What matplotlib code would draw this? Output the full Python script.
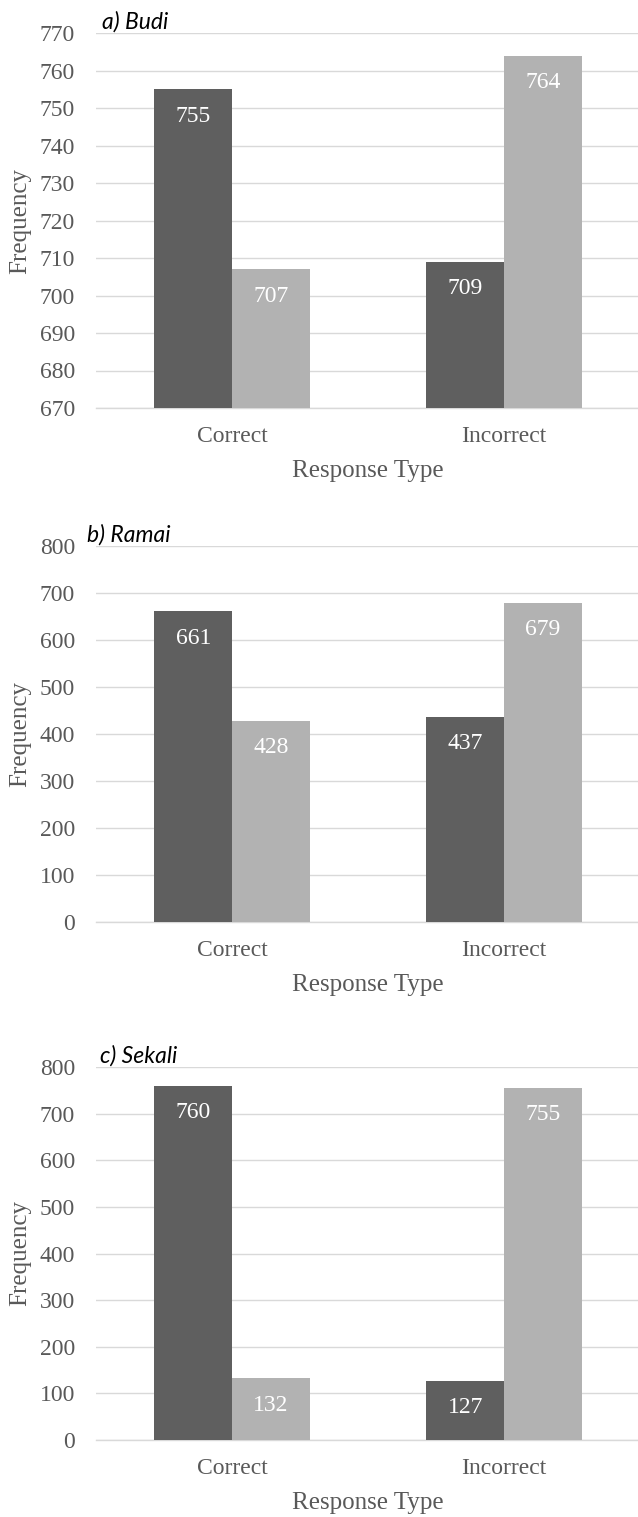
import matplotlib
matplotlib.use('Agg')
import matplotlib.pyplot as plt
import numpy as np

plt.rcParams.update({
    'font.family': ['Liberation Serif', 'DejaVu Serif'],
    'font.size': 17,
    'axes.edgecolor': '#d9d9d9',
    'xtick.color': '#595959',
    'ytick.color': '#595959',
    'axes.labelcolor': '#595959',
})

categories = ['Correct', 'Incorrect']
panel_titles = ['a) Budi', 'b) Ramai', 'c) Sekali']

# first series (dark bars) and second series (light bars) per panel
budi_dark = [755, 709]
budi_light = [707, 764]
ramai_dark = [661, 437]
ramai_light = [428, 679]
sekali_dark = [760, 127]
sekali_light = [132, 755]

y_limits = [(670, 770, 10), (0, 800, 100), (0, 800, 100)]

DARK = '#5f5f5f'
LIGHT = '#b2b2b2'
GRID = '#d9d9d9'

W, H = 638, 1517
fig = plt.figure(figsize=(W / 100, H / 100), dpi=100)

# (top, bottom) of each plot area in pixels, and title x offset
boxes = [(33, 408), (546, 922), (1067, 1440)]
title_dx = [6, -9, 4]
left_px, width_px = 96, 544

panels = [(budi_dark, budi_light), (ramai_dark, ramai_light), (sekali_dark, sekali_light)]
bar_w = 0.285
x = np.arange(len(categories))

for (top, bottom), title, dx, (dark, light), (lo, hi, step) in zip(
        boxes, panel_titles, title_dx, panels, y_limits):
    ax = fig.add_axes([left_px / W, 1 - bottom / H, width_px / W, (bottom - top) / H])
    b1 = ax.bar(x - bar_w / 2, dark, bar_w, color=DARK, zorder=3)
    b2 = ax.bar(x + bar_w / 2, light, bar_w, color=LIGHT, zorder=3)
    for bars in (b1, b2):
        for rect in bars:
            v = rect.get_height()
            ax.annotate(f'{v:.0f}', (rect.get_x() + rect.get_width() / 2, v),
                        xytext=(0, -27), textcoords='offset pixels',
                        ha='center', va='center', color='white', fontsize=17, zorder=4)
    ax.set_xlim(-0.5, 1.5)
    ax.set_ylim(lo, hi)
    ax.set_yticks(np.arange(lo, hi + 1, step))
    ax.set_xticks(x)
    ax.set_xticklabels(categories)
    ax.grid(axis='y', color=GRID, linewidth=1.0, zorder=0)
    ax.set_axisbelow(True)
    for s in ('top', 'right', 'left'):
        ax.spines[s].set_visible(False)
    ax.spines['bottom'].set_color(GRID)
    ax.spines['bottom'].set_linewidth(1.0)
    ax.spines['bottom'].set_zorder(2)
    ax.tick_params(axis='both', length=0)
    ax.tick_params(axis='x', pad=13)
    ax.tick_params(axis='y', pad=15)
    ax.set_xlabel('Response Type', fontsize=18, labelpad=9)
    ax.set_ylabel('Frequency', fontsize=18, labelpad=6)
    ax.text(dx / width_px, 1.0, title, transform=ax.transAxes,
            family=['Lato', 'DejaVu Sans'], style='italic', fontsize=16.5,
            ha='left', va='bottom', color='black')

fig.savefig('out.png', dpi=100)
